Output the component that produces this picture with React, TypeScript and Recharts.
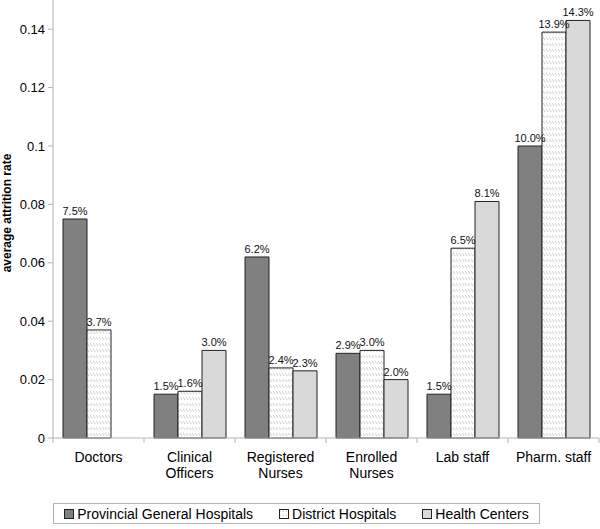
import React from "react";
import { Bar, BarChart, Label, LabelList, Legend, XAxis, YAxis } from "recharts";

const CATEGORIES = [
  "Doctors",
  "Clinical\nOfficers",
  "Registered\nNurses",
  "Enrolled\nNurses",
  "Lab staff",
  "Pharm. staff",
];
const PROVINCIAL = [0.075, 0.015, 0.062, 0.029, 0.015, 0.1];
const DISTRICT = [0.037, 0.016, 0.024, 0.03, 0.065, 0.139];
const HEALTH_CENTERS = [null, 0.03, 0.023, 0.02, 0.081, 0.143];
const Y_TICKS = [0, 0.02, 0.04, 0.06, 0.08, 0.1, 0.12, 0.14];

const SERIES = [
  { key: "provincial", name: "Provincial General Hospitals", fill: "#808080" },
  { key: "district", name: "District Hospitals", fill: "url(#hatch)" },
  { key: "health", name: "Health Centers", fill: "#d9d9d9" },
];

const data = CATEGORIES.map((c, i) => ({
  category: c,
  provincial: PROVINCIAL[i],
  district: DISTRICT[i],
  health: HEALTH_CENTERS[i],
}));

const FONT = "'Liberation Sans', Arial, sans-serif";
const AXIS = "#b3b3b3";

function CategoryTick(props: any) {
  const { x, y, payload, index } = props;
  const half = payload?.offset ?? 45.5;
  const lines = String(payload.value).split("\n");
  return (
    <g>
      <line x1={x - half} x2={x - half} y1={y} y2={y + 5} stroke={AXIS} />
      {index === CATEGORIES.length - 1 && (
        <line x1={x + half} x2={x + half} y1={y} y2={y + 5} stroke={AXIS} />
      )}
      <text x={x} y={y + 24} textAnchor="middle" fontSize={14} fill="#000" fontFamily={FONT}>
        {lines.map((l, i) => (
          <tspan key={i} x={x} dy={i === 0 ? 0 : 16}>
            {l}
          </tspan>
        ))}
      </text>
    </g>
  );
}

function Swatch({ fill }: { fill: string }) {
  return (
    <svg width={10} height={10} style={{ marginRight: 3 }}>
      <defs>
        <pattern id="hatchLegend" width="3" height="4" patternUnits="userSpaceOnUse">
          <rect width="3" height="4" fill="#fff" />
          <line x1="0" y1="0.5" x2="2" y2="3" stroke="#bbb" strokeWidth="0.8" />
        </pattern>
      </defs>
      <rect
        x={0.5}
        y={0.5}
        width={9}
        height={9}
        fill={fill === "url(#hatch)" ? "url(#hatchLegend)" : fill}
        stroke="#222"
      />
    </svg>
  );
}

function renderLegend() {
  return (
    <div style={{ height: 26 }}>
      <div
        style={{
          marginLeft: 53,
          width: 487,
          height: 21,
          boxSizing: "border-box",
          border: `1px solid ${AXIS}`,
          display: "flex",
          alignItems: "center",
          justifyContent: "center",
          gap: 26,
          fontFamily: FONT,
          fontSize: 14,
          color: "#000",
        }}
      >
        {SERIES.map((s) => (
          <span key={s.key} style={{ display: "flex", alignItems: "center" }}>
            <Swatch fill={s.fill} />
            {s.name}
          </span>
        ))}
      </div>
    </div>
  );
}

const pct = (v: any) => (v == null ? "" : `${(v * 100).toFixed(1)}%`);

export default function App() {
  return (
    <div style={{ position: "absolute", left: 0, top: 0, background: "#fff" }}>
      <BarChart
        width={600}
        height={529}
        data={data}
        margin={{ top: 0, right: 1, bottom: 0, left: 0 }}
        barCategoryGap="11%"
        barGap={0}
      >
        <defs>
          <pattern id="hatch" width="3" height="6" patternUnits="userSpaceOnUse">
            <rect width="3" height="6" fill="#fff" />
            <line x1="0" y1="1" x2="2.2" y2="4" stroke="#bdbdbd" strokeWidth="0.8" />
          </pattern>
        </defs>
        <XAxis
          dataKey="category"
          height={65}
          stroke={AXIS}
          tickLine={false}
          tickSize={0}
          tickMargin={0}
          interval={0}
          tick={<CategoryTick />}
        />
        <YAxis
          width={53}
          domain={[0, 0.15]}
          ticks={Y_TICKS}
          stroke={AXIS}
          tickSize={5}
          tickMargin={3}
          tick={{ fill: "#000", fontSize: 13, fontFamily: FONT }}
          tickFormatter={(v) => String(v)}
        >
          <Label
            content={() => (
              <text
                transform="translate(11, 213) rotate(-90)"
                textAnchor="middle"
                fontSize={12}
                fontWeight="bold"
                fontFamily={FONT}
                fill="#000"
              >
                average attrition rate
              </text>
            )}
          />
        </YAxis>
        <Legend verticalAlign="bottom" content={renderLegend} />
        {SERIES.map((s) => (
          <Bar
            key={s.key}
            dataKey={s.key}
            name={s.name}
            fill={s.fill}
            stroke="#222"
            strokeWidth={1}
            isAnimationActive={false}
          >
            <LabelList
              dataKey={s.key}
              position="top"
              offset={4}
              formatter={pct}
              style={{ fontSize: 11, fontFamily: FONT, fill: "#111" }}
            />
          </Bar>
        ))}
      </BarChart>
    </div>
  );
}
